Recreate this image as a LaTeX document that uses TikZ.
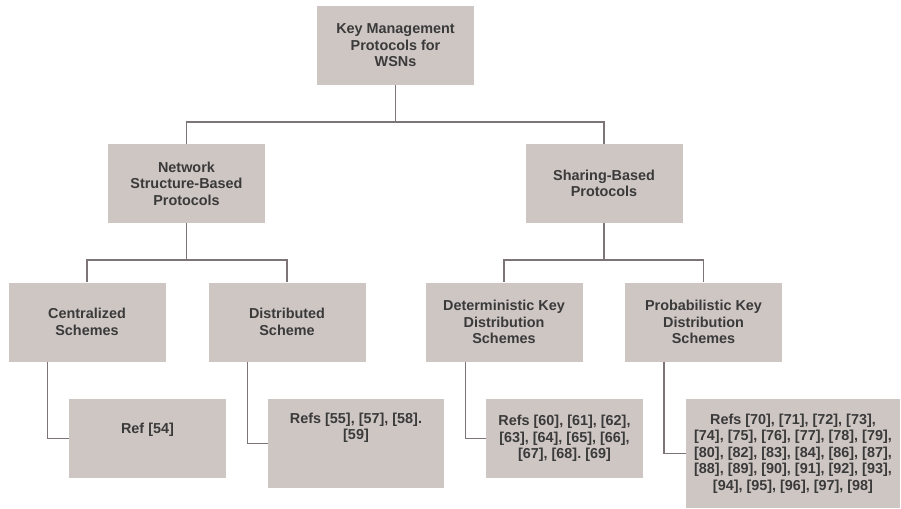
\documentclass[tikz,border=0pt]{standalone}
\usepackage{fontspec}
\setmainfont{Liberation Sans}
\frenchspacing
\definecolor{boxfill}{RGB}{206,198,195}
\definecolor{linegray}{RGB}{125,117,117}
\definecolor{textgray}{RGB}{58,58,58}

\begin{document}
\begin{tikzpicture}[x=1pt,y=-1pt,
    box/.style={fill=boxfill,minimum width=157pt,minimum height=79pt,inner sep=0pt,
        align=center,text=textgray,font=\fontsize{14.4}{16.4}\selectfont\bfseries},
    link/.style={draw=linegray,line width=1.5pt}]
    \useasboundingbox (0,0) rectangle (901,508);
    \node[box] (root) at (395.5,45.5) {Key Management\\Protocols for\\WSNs};
    \node[box] (net) at (186.5,183.5) {Network\\Structure-Based\\Protocols};
    \node[box] (share) at (604,183.5) {Sharing-Based\\Protocols};
    \node[box] (cent) at (87,322) {Centralized\\Schemes};
    \node[box] (dist) at (287,322) {Distributed\\Scheme};
    \node[box] (det) at (504,322) {Deterministic Key\\Distribution\\Schemes};
    \node[box] (prob) at (703.5,322) {Probabilistic Key\\Distribution\\Schemes};
    \node[box,text depth=20pt] (ref54) at (147.5,438.5) {Ref [54]};
    \node[box,minimum width=176pt,minimum height=89pt,text depth=35pt] (ref55) at (356,443.5) {Refs [55], [57], [58].\\{}[59]};
    \node[box] (ref60) at (564.5,438.5) {Refs [60], [61], [62],\\{}[63], [64], [65], [66],\\{}[67], [68]. [69]};
    \node[box,minimum width=214pt,minimum height=109pt] (ref70) at (793,453.5) {Refs [70], [71], [72], [73],\\{}[74], [75], [76], [77], [78], [79],\\{}[80], [82], [83], [84], [86], [87],\\{}[88], [89], [90], [91], [92], [93],\\{}[94], [95], [96], [97], [98]};
    \draw[link] (root.south) -- ++(0,37) -| (net.north);
    \draw[link] (root.south) -- ++(0,37) -| (share.north);
    \draw[link] (net.south) -- ++(0,37) -| (cent.north);
    \draw[link] (net.south) -- ++(0,37) -| (dist.north);
    \draw[link] (share.south) -- ++(0,37) -| (det.north);
    \draw[link] (share.south) -- ++(0,37) -| (prob.north);
    \draw[link] ([xshift=39pt]cent.south west) |- (ref54.west);
    \draw[link] ([xshift=39pt]dist.south west) |- (ref55.west);
    \draw[link] ([xshift=40pt]det.south west) |- (ref60.west);
    \draw[link] ([xshift=39pt]prob.south west) |- (ref70.west);
    \end{tikzpicture}
\end{document}
